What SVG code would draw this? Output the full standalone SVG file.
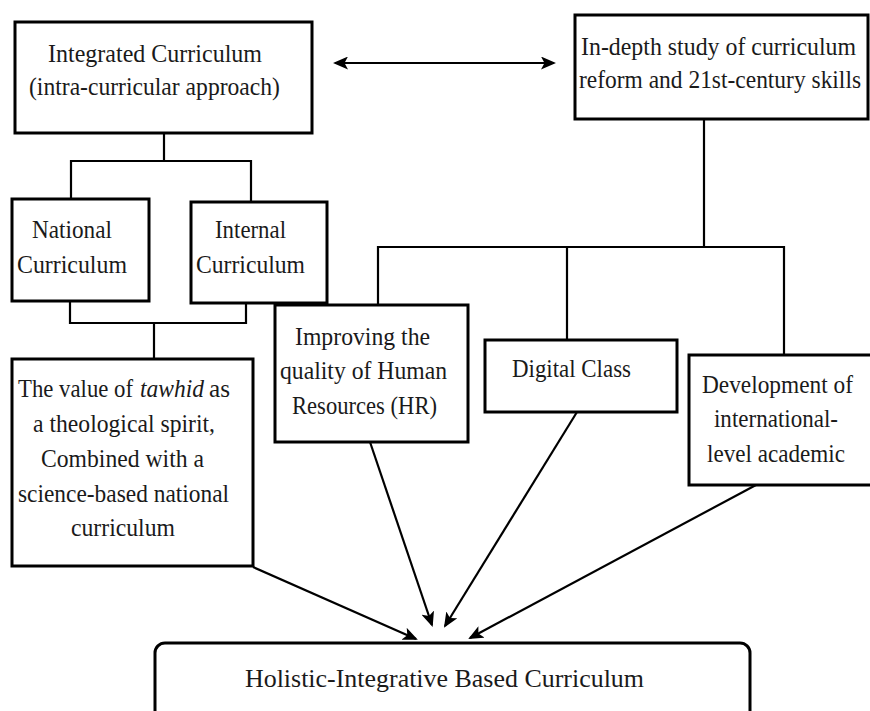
<svg xmlns="http://www.w3.org/2000/svg" width="870" height="711" viewBox="0 0 870 711">
<style>
.box{fill:#fff;stroke:#000;stroke-width:3}
.ln{fill:none;stroke:#000;stroke-width:2.2}
.t{font-family:"Liberation Serif","DejaVu Serif",serif;font-size:26px;fill:#1a1a1a;transform:scale(0.91,1);transform-origin:0 0}
.i{font-style:italic}
</style>
<defs>
<marker id="ah" markerUnits="userSpaceOnUse" viewBox="0 0 15 13" refX="13" refY="6.5" markerWidth="15" markerHeight="13" orient="auto-start-reverse">
<path d="M0,0 L15,6.5 L0,13 L3.5,6.5 z" fill="#000"/>
</marker>
</defs>
<rect width="870" height="711" fill="#fff"/>
<g id="connectors">
<line class="ln" x1="335" y1="63" x2="554" y2="63" stroke-width="3" marker-start="url(#ah)" marker-end="url(#ah)"/>
<path class="ln" d="M164,133 V161 M71,199 V161 H251 V202"/>
<path class="ln" d="M70,301 V323 H246 V303 M154,323 V359"/>
<path class="ln" d="M704,119 V247 M378,305 V247 H784 V355 M567,247 V340"/>
<line class="ln" x1="253" y1="567" x2="416" y2="639" marker-end="url(#ah)"/>
<line class="ln" x1="370" y1="442" x2="432" y2="625" marker-end="url(#ah)"/>
<line class="ln" x1="577" y1="412" x2="445" y2="626" marker-end="url(#ah)"/>
<line class="ln" x1="756" y1="485" x2="470" y2="638" marker-end="url(#ah)"/>
</g>
<g id="integrated">
<rect class="box" x="15" y="22" width="297" height="111"/>
<text class="t" x="52.75" y="62" textLength="235.2" lengthAdjust="spacingAndGlyphs">Integrated Curriculum</text>
<text class="t" x="31.87" y="95" textLength="275.8" lengthAdjust="spacingAndGlyphs">(intra-curricular  approach)</text>
</g>
<g id="indepth">
<rect class="box" x="575" y="15" width="293" height="104"/>
<text class="t" x="638.5" y="55" textLength="302.2" lengthAdjust="spacingAndGlyphs">In-depth study of curriculum</text>
<text class="t" x="636.3" y="88" textLength="309.9" lengthAdjust="spacingAndGlyphs">reform and 21st-century skills</text>
</g>
<g id="national">
<rect class="box" x="12" y="199" width="137" height="102"/>
<text class="t" x="35.16" y="238" textLength="87.9" lengthAdjust="spacingAndGlyphs">National</text>
<text class="t" x="18.68" y="273" textLength="120.9" lengthAdjust="spacingAndGlyphs">Curriculum</text>
</g>
<g id="internal">
<rect class="box" x="191" y="202" width="136" height="101"/>
<text class="t" x="236.3" y="238" textLength="78" lengthAdjust="spacingAndGlyphs">Internal</text>
<text class="t" x="215.4" y="273" textLength="119.8" lengthAdjust="spacingAndGlyphs">Curriculum</text>
</g>
<g id="tawhid">
<rect class="box" x="12" y="359" width="241" height="207"/>
<text class="t" x="19.78" y="397" textLength="126.4" lengthAdjust="spacingAndGlyphs">The value of</text>
<text class="t i" x="153.8" y="397" textLength="70.3" lengthAdjust="spacingAndGlyphs">tawhid</text>
<text class="t" x="229.7" y="397" textLength="23.1" lengthAdjust="spacingAndGlyphs">as</text>
<text class="t" x="36.26" y="432" textLength="200" lengthAdjust="spacingAndGlyphs">a theological spirit,</text>
<text class="t" x="45.05" y="467" textLength="179.1" lengthAdjust="spacingAndGlyphs">Combined with a</text>
<text class="t" x="19.78" y="502" textLength="231.9" lengthAdjust="spacingAndGlyphs">science-based national</text>
<text class="t" x="78.02" y="536" textLength="114.3" lengthAdjust="spacingAndGlyphs">curriculum</text>
</g>
<g id="improving">
<rect class="box" x="275" y="305" width="193" height="137"/>
<text class="t" x="324.2" y="345" textLength="148.4" lengthAdjust="spacingAndGlyphs">Improving the</text>
<text class="t" x="307.7" y="379" textLength="183.5" lengthAdjust="spacingAndGlyphs">quality of Human</text>
<text class="t" x="320.9" y="414" textLength="159.3" lengthAdjust="spacingAndGlyphs">Resources (HR)</text>
</g>
<g id="digital">
<rect class="box" x="485" y="340" width="192" height="72"/>
<text class="t" x="562.6" y="377" textLength="130.8" lengthAdjust="spacingAndGlyphs">Digital Class</text>
</g>
<g id="development">
<rect class="box" x="689" y="355" width="185" height="130"/>
<text class="t" x="771.4" y="393" textLength="165.9" lengthAdjust="spacingAndGlyphs">Development of</text>
<text class="t" x="784.6" y="427" textLength="136.3" lengthAdjust="spacingAndGlyphs">international-</text>
<text class="t" x="776.9" y="462" textLength="151.6" lengthAdjust="spacingAndGlyphs">level academic</text>
</g>
<g id="holistic">
<rect class="box" x="155" y="643" width="595" height="90" rx="10" ry="10"/>
<text class="t" x="269.2" y="687" textLength="438.5" lengthAdjust="spacingAndGlyphs">Holistic-Integrative Based Curriculum</text>
</g>
</svg>
